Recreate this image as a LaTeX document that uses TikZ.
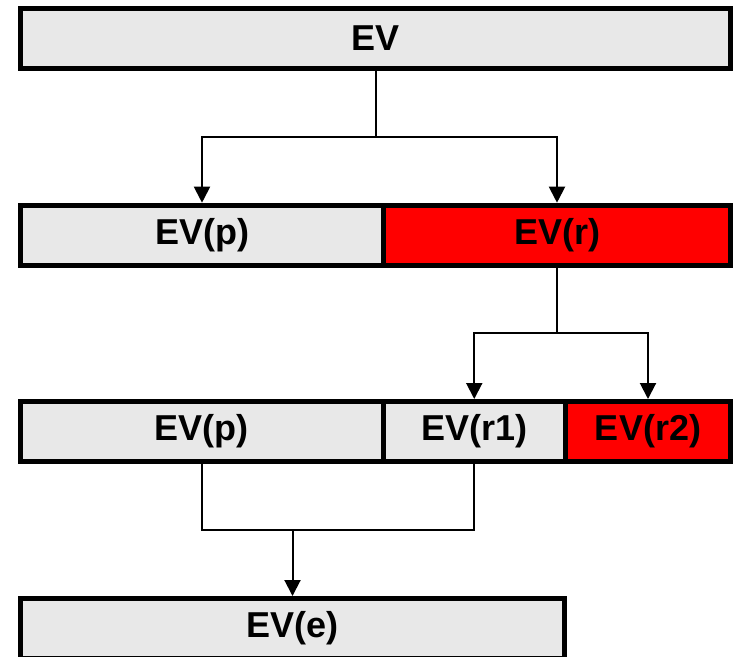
\documentclass[tikz,border=0pt]{standalone}
\usepackage{fontspec}
\setmainfont{Liberation Sans}
\usetikzlibrary{arrows.meta}
\definecolor{boxgray}{RGB}{232,232,232}
\tikzset{
  blk/.style={draw=black, line width=5pt, fill=boxgray, minimum height=60pt, inner sep=0pt,
    font=\fontsize{36}{42}\selectfont\bfseries},
  redblk/.style={blk, fill=red},
  conn/.style={draw=black, line width=2pt},
  arr/.style={conn, -{Triangle[width=16pt,length=16pt]}},
}
\begin{document}
\begin{tikzpicture}[x=1pt,y=-1pt]
\useasboundingbox (0,0) rectangle (733,656);
\node[blk, minimum width=710pt] (ev) at (375.5,38.5) {EV};
\node[blk, minimum width=363pt] (p1) at (202,235.2) {EV(p)};
\node[redblk, minimum width=347pt] (r) at (557,235.2) {EV(r)};
\node[blk, minimum width=362.5pt] (p2) at (201.75,431.5) {EV(p)};
\node[blk, minimum width=182.5pt] (r1) at (474.25,431.5) {EV(r1)};
\node[redblk, minimum width=165pt] (r2) at (648,431.5) {EV(r2)};
\node[blk, minimum width=544pt] (e) at (292.5,628.5) {EV(e)};
\coordinate (j1) at (376,137);
\coordinate (j2) at (557,333);
\coordinate (j3) at (292.5,530);
\draw[conn] (ev.south) -- (ev.south |- j1);
\draw[arr] (j1) -| (p1.north);
\draw[arr] (j1) -| (r.north);
\draw[conn] (r.south) -- (j2);
\draw[arr] (j2) -| (r1.north);
\draw[arr] (j2) -| (r2.north);
\draw[conn] (p2.south) |- (j3) -| (r1.south);
\draw[arr] (j3) -- (e.north);
\end{tikzpicture}
\end{document}
